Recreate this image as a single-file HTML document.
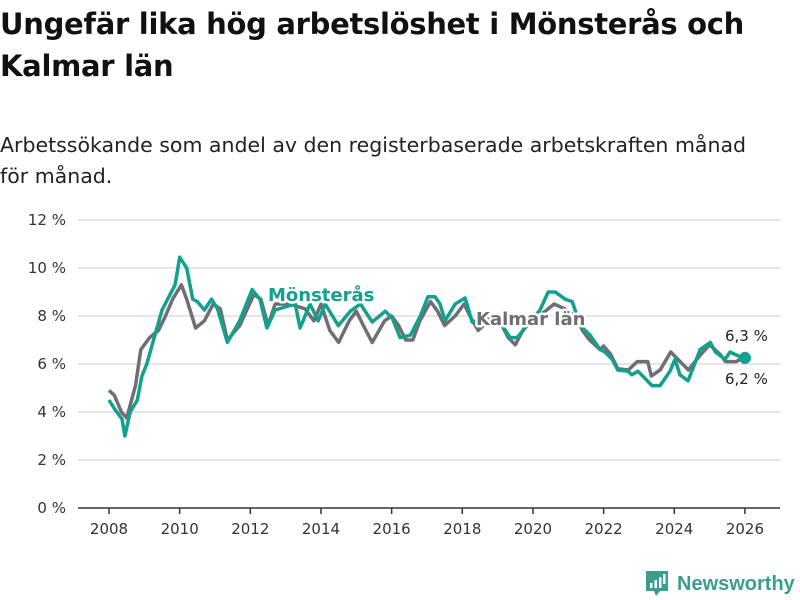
<!DOCTYPE html>
<html><head><meta charset="utf-8"><style>
body{margin:0;width:800px;height:600px;background:#fff;font-family:"DejaVu Sans","Liberation Sans",sans-serif;color:#111;overflow:hidden}
h1{position:absolute;left:0;top:3px;margin:0;font-size:29px;line-height:42px;font-weight:bold;width:800px;letter-spacing:-0.3px}
.sub{position:absolute;left:0;top:130px;font-size:20.5px;line-height:31px;color:#222;width:770px}
svg{position:absolute;left:0;top:0}
</style></head><body>
<h1>Ungefär lika hög arbetslöshet i Mönsterås och Kalmar län</h1>
<div class="sub">Arbetssökande som andel av den registerbaserade arbetskraften månad för månad.</div>
<svg id="c" width="800" height="600"></svg>
<script>
const yTicks=[0,2,4,6,8,10,12];
const xTicks=[2008,2010,2012,2014,2016,2018,2020,2022,2024,2026];
const kalmarDates=[2008.0,2008.15,2008.35,2008.5,2008.75,2008.9,2009.15,2009.4,2009.6,2009.8,2010.05,2010.2,2010.45,2010.7,2010.95,2011.15,2011.35,2011.7,2012.1,2012.3,2012.5,2012.7,2013.1,2013.55,2013.8,2014.0,2014.25,2014.5,2014.8,2015.0,2015.2,2015.45,2015.8,2016.0,2016.2,2016.4,2016.6,2016.8,2017.1,2017.3,2017.5,2017.8,2018.05,2018.25,2018.45,2018.8,2019.05,2019.3,2019.5,2019.75,2020.05,2020.35,2020.6,2020.9,2021.2,2021.4,2021.6,2021.9,2022.0,2022.2,2022.4,2022.7,2022.95,2023.25,2023.35,2023.6,2023.9,2024.1,2024.4,2024.75,2025.0,2025.3,2025.45,2025.75,2026.0];
const kalmarValues=[4.9,4.7,4.0,3.75,5.1,6.6,7.1,7.4,8.0,8.7,9.3,8.7,7.5,7.8,8.5,8.3,7.0,7.6,8.9,8.7,7.6,8.5,8.5,8.3,7.8,8.5,7.4,6.9,7.8,8.2,7.6,6.9,7.8,8.0,7.6,7.0,7.0,7.8,8.6,8.2,7.6,8.0,8.5,7.9,7.4,7.9,7.8,7.1,6.8,7.5,7.9,8.2,8.5,8.3,8.0,7.4,7.0,6.6,6.75,6.4,5.8,5.75,6.1,6.1,5.5,5.75,6.5,6.2,5.75,6.4,6.8,6.4,6.1,6.1,6.3];
const monsDates=[2008.0,2008.17,2008.37,2008.45,2008.6,2008.8,2008.93,2009.07,2009.3,2009.5,2009.73,2009.87,2010.0,2010.2,2010.37,2010.5,2010.7,2010.9,2011.07,2011.35,2011.7,2012.05,2012.27,2012.47,2012.7,2013.27,2013.41,2013.69,2013.92,2014.12,2014.49,2014.83,2015.12,2015.45,2015.82,2016.02,2016.24,2016.53,2016.81,2017.03,2017.23,2017.37,2017.51,2017.8,2018.08,2018.28,2018.65,2019.07,2019.35,2019.55,2019.92,2020.2,2020.43,2020.63,2020.91,2021.11,2021.34,2021.62,2021.9,2022.04,2022.24,2022.4,2022.69,2022.8,2022.97,2023.17,2023.37,2023.6,2023.88,2024.02,2024.16,2024.39,2024.73,2025.02,2025.16,2025.44,2025.58,2025.86,2026.0];
const monsValues=[4.5,4.1,3.7,3.0,4.0,4.5,5.5,6.0,7.2,8.25,8.9,9.3,10.45,10.0,8.7,8.6,8.25,8.7,8.3,6.9,7.8,9.1,8.7,7.5,8.25,8.5,7.5,8.5,7.8,8.5,7.6,8.2,8.5,7.75,8.2,7.9,7.1,7.2,8.0,8.8,8.8,8.5,7.8,8.5,8.75,7.75,7.9,7.75,7.1,7.1,7.75,8.25,9.0,9.0,8.7,8.6,7.6,7.2,6.6,6.5,6.2,5.75,5.7,5.55,5.7,5.4,5.1,5.1,5.7,6.2,5.55,5.3,6.6,6.9,6.5,6.2,6.5,6.3,6.25];
const NS='http://www.w3.org/2000/svg';
const svg=document.getElementById('c');
const X=y=>109+(y-2008)*35.33;
const Y=v=>508-v*24;
function mk(t,a,p){const e=document.createElementNS(NS,t);for(const k in a)e.setAttribute(k,a[k]);(p||svg).appendChild(e);return e;}
yTicks.forEach(v=>{
  const l=mk('line',{x1:78,x2:780,y1:Y(v),y2:Y(v),stroke:v===0?'#333':'#ddd','stroke-width':1.5});
  
  
  const t=mk('text',{x:66,y:Y(v)+5,'text-anchor':'end','font-size':15,fill:'#333'});
  t.textContent=v+' %';
  
  
});
xTicks.forEach(yr=>{
  const l=mk('line',{x1:X(yr),x2:X(yr),y1:508,y2:514,stroke:'#333','stroke-width':1.5});
  
  
  const t=mk('text',{x:X(yr),y:534,'text-anchor':'middle','font-size':15,fill:'#333'});
  t.textContent=yr;
  
  
});
function pts(d,v){return d.map((x,i)=>X(x).toFixed(1)+','+Y(v[i]).toFixed(1)).join(' ');}
const gl=mk('polyline',{points:pts(kalmarDates,kalmarValues),fill:'none',stroke:'#6e6e73','stroke-width':3.5,'stroke-linejoin':'round'});


const tl=mk('polyline',{points:pts(monsDates,monsValues),fill:'none',stroke:'#13a08f','stroke-width':3.5,'stroke-linejoin':'round'});


const gd=mk('circle',{cx:X(kalmarDates[kalmarDates.length-1]),cy:Y(kalmarValues[kalmarValues.length-1]),r:5,fill:'#6e6e73'});


const td=mk('circle',{cx:X(monsDates[monsDates.length-1]),cy:Y(monsValues[monsValues.length-1]),r:6,fill:'#13a08f'});


function lab(x,y,txt,col,size,w,name){
  const t=mk('text',{x:x,y:y,'font-size':size,'font-weight':w,fill:col,stroke:'#fff','stroke-width':5,'paint-order':'stroke','stroke-linejoin':'round'});
  t.textContent=txt;
  
  
}
lab(268,301,'Mönsterås','#13a08f',18,'bold','monsteras-label');
lab(476,325,'Kalmar län','#6e6e73',18,'bold','kalmar-label');
lab(725,341,'6,3 %','#222',15,'normal','kalmar-end-value');
lab(725,384,'6,2 %','#222',15,'normal','monsteras-end-value');
</script>
<svg width="800" height="600" style="pointer-events:none">
<path d="M646 571 h22 v20 h-8 l-4 5 l-2 -5 h-8 z" fill="#3a9e8f"/>
<rect x="650" y="583" width="2.5" height="5" fill="#fff"/><rect x="654.5" y="580" width="2.5" height="8" fill="#fff"/><rect x="659" y="577" width="2.5" height="11" fill="#fff"/><rect x="663" y="574" width="2.5" height="10" fill="#fff"/>
<text x="677" y="590" font-size="20" font-weight="bold" fill="#3a9e8f" font-family="Liberation Sans, sans-serif">Newsworthy</text>
</svg>
</body></html>
